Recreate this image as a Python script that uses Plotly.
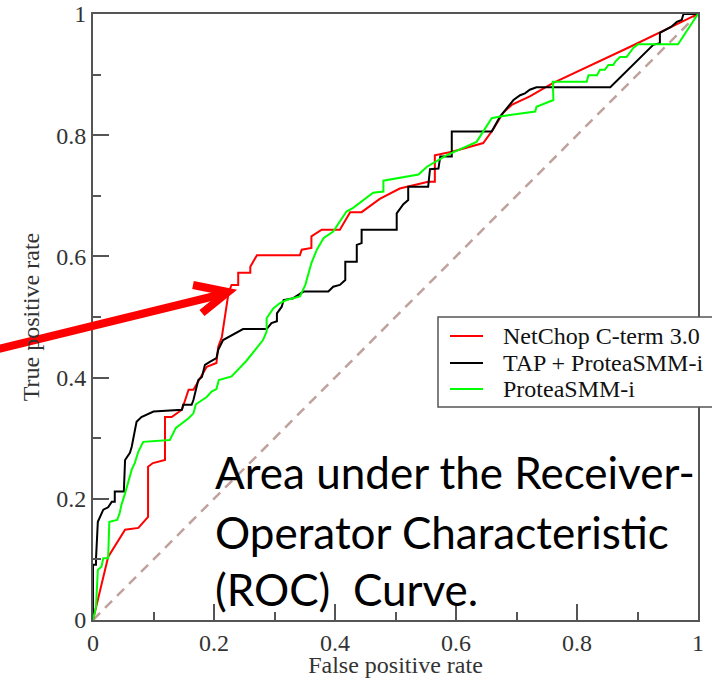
import plotly.graph_objects as go

# ---- data ----
netchop_fpr = [0, 0.008, 0.025, 0.053, 0.075, 0.091, 0.091, 0.099, 0.119, 0.119, 0.130, 0.147, 0.158,
               0.166, 0.188, 0.204, 0.207, 0.213, 0.221, 0.224, 0.229, 0.240, 0.240, 0.260, 0.260,
               0.271, 0.342, 0.345, 0.361, 0.361, 0.378, 0.408, 0.425, 0.444, 0.474, 0.507, 0.554,
               0.565, 0.565, 0.595, 0.645, 0.661, 0.678, 0.692, 0.722, 0.760, 0.888, 1.0]
netchop_tpr = [0, 0.033, 0.104, 0.149, 0.152, 0.170, 0.253, 0.259, 0.264, 0.335, 0.335, 0.347, 0.380,
               0.380, 0.418, 0.424, 0.451, 0.467, 0.523, 0.540, 0.553, 0.553, 0.573, 0.573, 0.583,
               0.602, 0.602, 0.611, 0.614, 0.633, 0.644, 0.644, 0.673, 0.673, 0.695, 0.712, 0.723,
               0.723, 0.767, 0.773, 0.787, 0.809, 0.837, 0.850, 0.864, 0.886, 0.946, 1.0]

tap_fpr = [0, 0, 0.005, 0.005, 0.008, 0.017, 0.025, 0.031, 0.036, 0.036, 0.051, 0.053, 0.061, 0.064,
           0.072, 0.080, 0.100, 0.147, 0.149, 0.163, 0.166, 0.174, 0.180, 0.185, 0.193, 0.204, 0.207,
           0.215, 0.248, 0.287, 0.295, 0.304, 0.304, 0.312, 0.315, 0.331, 0.348, 0.389, 0.397, 0.408,
           0.417, 0.417, 0.436, 0.436, 0.444, 0.444, 0.502, 0.502, 0.513, 0.521, 0.521, 0.554, 0.557,
           0.571, 0.574, 0.593, 0.593, 0.659, 0.673, 0.684, 0.695, 0.706, 0.714, 0.722, 0.733, 0.855,
           0.926, 0.937, 0.937, 0.956, 0.965, 0.973, 0.976, 1.0]
tap_tpr = [0, 0.091, 0.091, 0.102, 0.162, 0.182, 0.186, 0.195, 0.195, 0.212, 0.212, 0.264, 0.276, 0.286,
           0.327, 0.335, 0.344, 0.347, 0.355, 0.355, 0.363, 0.396, 0.401, 0.421, 0.426, 0.432, 0.446,
           0.462, 0.480, 0.480, 0.490, 0.493, 0.506, 0.517, 0.528, 0.531, 0.542, 0.542, 0.550, 0.553,
           0.561, 0.591, 0.591, 0.619, 0.622, 0.644, 0.644, 0.671, 0.686, 0.693, 0.715, 0.715, 0.744,
           0.745, 0.765, 0.765, 0.806, 0.806, 0.831, 0.844, 0.858, 0.866, 0.869, 0.875, 0.879, 0.879,
           0.949, 0.952, 0.969, 0.979, 0.987, 0.990, 1.0, 1.0]

protea_fpr = [0, 0.005, 0.008, 0.014, 0.017, 0.025, 0.027, 0.040, 0.044, 0.047, 0.053, 0.058, 0.064,
              0.069, 0.075, 0.083, 0.127, 0.137, 0.158, 0.166, 0.170, 0.188, 0.196, 0.204, 0.208,
              0.229, 0.253, 0.281, 0.287, 0.287, 0.298, 0.309, 0.320, 0.342, 0.351, 0.361, 0.370,
              0.381, 0.397, 0.419, 0.430, 0.463, 0.480, 0.480, 0.538, 0.552, 0.568, 0.585, 0.634,
              0.659, 0.673, 0.731, 0.733, 0.761, 0.760, 0.816, 0.819, 0.833, 0.838, 0.846, 0.852,
              0.860, 0.863, 0.871, 0.882, 0.893, 0.901, 0.967, 1.0]
protea_tpr = [0, 0.022, 0.083, 0.088, 0.102, 0.102, 0.162, 0.165, 0.176, 0.190, 0.209, 0.228, 0.248,
              0.259, 0.278, 0.294, 0.297, 0.317, 0.333, 0.341, 0.356, 0.368, 0.377, 0.381, 0.396,
              0.402, 0.427, 0.462, 0.476, 0.498, 0.514, 0.523, 0.528, 0.534, 0.553, 0.589, 0.611,
              0.630, 0.641, 0.674, 0.680, 0.705, 0.707, 0.725, 0.735, 0.748, 0.757, 0.767, 0.789,
              0.828, 0.831, 0.839, 0.847, 0.858, 0.888, 0.888, 0.899, 0.899, 0.908, 0.908, 0.916,
              0.916, 0.921, 0.929, 0.929, 0.944, 0.950, 0.950, 1.0]

chance_line = [0, 1]

series_names = ["NetChop C-term 3.0", "TAP + ProteaSMM-i", "ProteaSMM-i"]
series_colors = ["#ff0000", "#000000", "#00ff00"]
x_title = "False positive rate"
y_title = "True positive rate"
note_lines = ["Area under the Receiver-", "Operator Characteristic", "(ROC)  Curve."]

# ---- figure ----
W, H = 712, 678
L, T = 93, 14
pw, ph = 605, 606
R, B = W - L - pw, H - T - ph


def px(sx):  # window pixel x -> paper x
    return (sx - L) / pw


def py(sy):  # window pixel y -> paper y
    return (T + ph - sy) / ph


fig = go.Figure()
fig.add_trace(go.Scatter(x=chance_line, y=chance_line, mode="lines", showlegend=False,
                         line=dict(color="#c0a29d", width=2.5, dash="10px,7px"), hoverinfo="skip"))
for xs, ys, name, col in zip([netchop_fpr, tap_fpr, protea_fpr], [netchop_tpr, tap_tpr, protea_tpr],
                             series_names, series_colors):
    fig.add_trace(go.Scatter(x=xs, y=ys, mode="lines", name=name, showlegend=False,
                             line=dict(color=col, width=2)))

axis_common = dict(
    range=[0, 1], dtick=0.2, tick0=0, ticks="inside", ticklen=16, tickwidth=1.5, tickcolor="#555",
    showline=True, mirror=True, linecolor="#555", linewidth=2, showgrid=False, zeroline=False,
    automargin=False, ticklabeloverflow="allow",
    tickfont=dict(family="Liberation Serif", size=24, color="#333"),
    minor=dict(dtick=0.1, ticks="inside", ticklen=8, tickwidth=1.5, tickcolor="#555", showgrid=False),
)
fig.update_xaxes(**axis_common, ticklabelstandoff=0, title=dict(text=x_title, standoff=8,
                 font=dict(family="Liberation Serif", size=24, color="#333")))
fig.update_yaxes(**axis_common, title=dict(text=y_title, standoff=10,
                 font=dict(family="Liberation Serif", size=24, color="#333")))

shapes = [
    # legend box
    dict(type="rect", xref="paper", yref="paper", x0=px(438), x1=px(725), y0=py(407), y1=py(317),
         line=dict(color="#555", width=1.5), fillcolor="white", layer="above"),
    # arrow
    dict(type="path", xref="paper", yref="paper",
         path=f"M {px(-10)} {py(351)} L {px(223)} {py(294)}",
         line=dict(color="#ff0000", width=8)),
    dict(type="path", xref="paper", yref="paper",
         path=f"M {px(193)} {py(285)} L {px(228)} {py(292)} L {px(202)} {py(313)}",
         line=dict(color="#ff0000", width=8)),
]
annotations = []
legend_rows = [336, 363, 389]
for name, col, yr in zip(series_names, series_colors, legend_rows):
    shapes.append(dict(type="line", xref="paper", yref="paper", x0=px(450), x1=px(483),
                       y0=py(yr), y1=py(yr), line=dict(color=col, width=2), layer="above"))
    annotations.append(dict(x=px(501), y=py(yr), xref="paper", yref="paper", xanchor="left",
                            yanchor="middle", text=name, showarrow=False,
                            font=dict(family="Liberation Serif", size=24, color="#111")))

for line, yc in zip(note_lines, [472, 532, 589]):
    annotations.append(dict(x=px(213), y=py(yc), xref="paper", yref="paper", xanchor="left",
                            yanchor="middle", text=line, showarrow=False,
                            font=dict(family="Lato", size=44, color="#000")))

fig.update_layout(
    width=W, height=H, margin=dict(l=L, r=R, t=T, b=B, autoexpand=False),
    paper_bgcolor="white", plot_bgcolor="white",
    shapes=shapes, annotations=annotations, showlegend=False,
)

# remove the browser's default 8px body margin so the figure fills the window exactly
fig.write_html("out.html", config={"displayModeBar": False},
               post_script="document.body.style.margin='0';document.body.style.overflow='hidden';")
